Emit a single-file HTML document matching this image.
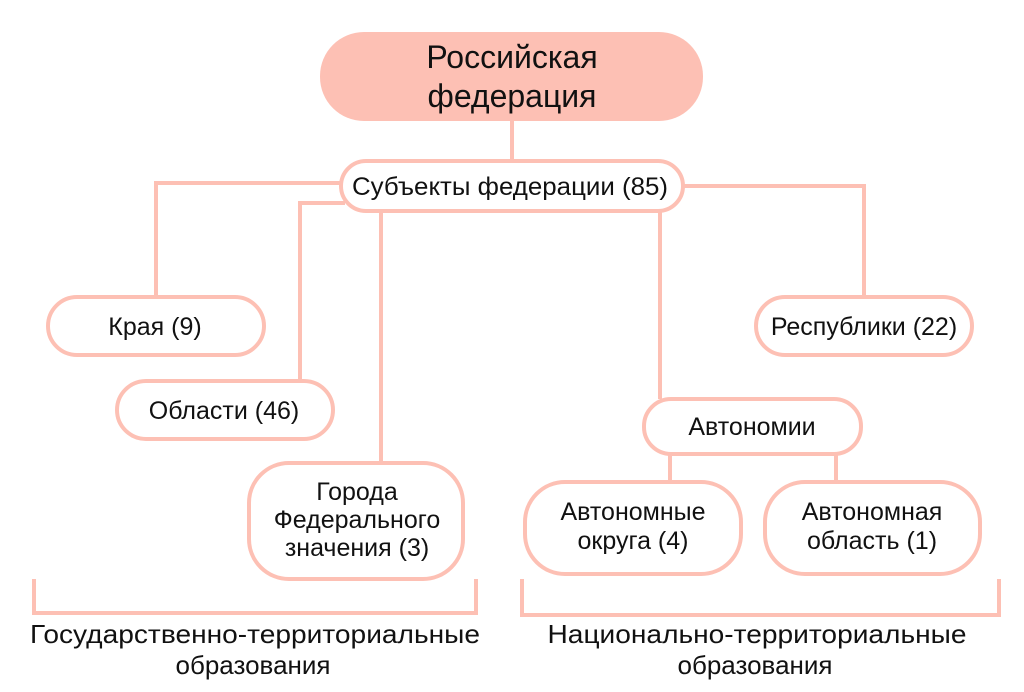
<!DOCTYPE html>
<html><head><meta charset="utf-8">
<style>
html,body{margin:0;padding:0;background:#fff;}
svg{display:block;}
text{font-family:"Liberation Sans",sans-serif;fill:#111;text-anchor:middle;}
</style></head>
<body>
<svg width="1024" height="692" viewBox="0 0 1024 692" xmlns="http://www.w3.org/2000/svg">
<g stroke="#fdc0b4" stroke-width="4" fill="none">
  <line x1="512" y1="120" x2="512" y2="162"/>
  <polyline points="345,183 156,183 156,297"/>
  <polyline points="345,203 300,203 300,382"/>
  <line x1="381" y1="210" x2="381" y2="463"/>
  <polyline points="682,186 864,186 864,297"/>
  <line x1="660" y1="210" x2="660" y2="399"/>
  <line x1="670" y1="454" x2="670" y2="482"/>
  <line x1="836" y1="454" x2="836" y2="482"/>
  <polyline points="34,579 34,613 476,613 476,579"/>
  <polyline points="522,579 522,615 999,615 999,579"/>
</g>
<rect x="320" y="32" width="383" height="89" rx="44" fill="#fdc0b4"/>
<g stroke="#fdc0b4" stroke-width="4" fill="#fff">
  <rect x="341" y="161" width="342" height="50" rx="25"/>
  <rect x="48" y="297" width="216" height="58" rx="29"/>
  <rect x="117" y="381" width="216" height="58" rx="29"/>
  <rect x="249" y="463" width="214" height="116" rx="40"/>
  <rect x="756" y="297" width="216" height="58" rx="29"/>
  <rect x="644" y="399" width="217" height="55" rx="27"/>
  <rect x="525" y="482" width="216" height="92" rx="40"/>
  <rect x="765" y="482" width="215" height="92" rx="40"/>
</g>
<text x="512" y="68" font-size="32">Российская</text>
<text x="512" y="107" font-size="32">федерация</text>
<text x="510" y="195" font-size="25" textLength="316" lengthAdjust="spacingAndGlyphs">Субъекты федерации (85)</text>
<text x="155" y="335" font-size="25">Края (9)</text>
<text x="224" y="419" font-size="25">Области (46)</text>
<text x="357" y="500" font-size="25">Города</text>
<text x="357" y="528" font-size="25">Федерального</text>
<text x="357" y="556" font-size="25">значения (3)</text>
<text x="864" y="335" font-size="25">Республики (22)</text>
<text x="752" y="435" font-size="25">Автономии</text>
<text x="633" y="520" font-size="25">Автономные</text>
<text x="633" y="549" font-size="25">округа (4)</text>
<text x="872" y="520" font-size="25">Автономная</text>
<text x="872" y="549" font-size="25">область (1)</text>
<text x="255" y="643" font-size="26" textLength="450" lengthAdjust="spacingAndGlyphs">Государственно-территориальные</text>
<text x="253" y="674" font-size="26">образования</text>
<text x="757" y="643" font-size="26" textLength="419" lengthAdjust="spacingAndGlyphs">Национально-территориальные</text>
<text x="755" y="674" font-size="26">образования</text>
</svg>
</body></html>
